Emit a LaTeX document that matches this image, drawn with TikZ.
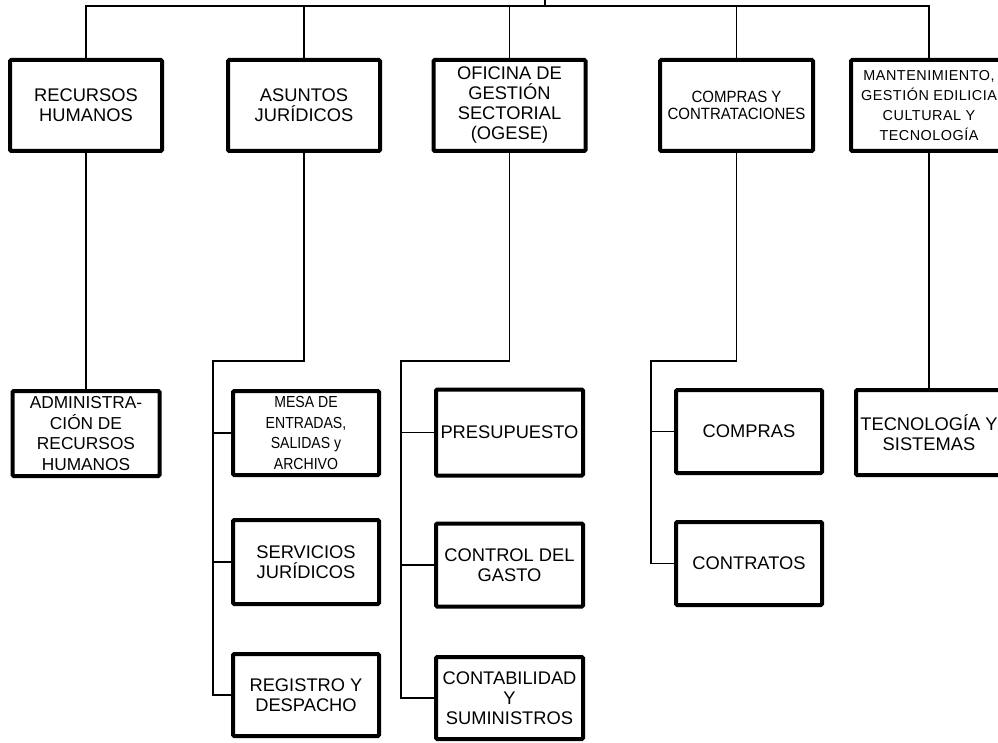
\documentclass[tikz,border=0pt]{standalone}
\usepackage{fontspec}
\setmainfont{Liberation Sans}
\newfontfamily\narrowfont[FakeStretch=0.88]{Liberation Sans}
\newfontfamily\ccfont[FakeStretch=0.92]{Liberation Sans}
\newfontfamily\spacedfont[LetterSpace=3.5]{Liberation Sans}
\begin{document}
\begin{tikzpicture}[x=1pt,y=-1pt,
  box/.style={draw=black,line width=4pt,rounded corners=1.2pt,fill=white,align=center,inner sep=0pt,font=\fontsize{18.3}{20}\selectfont},
  ccstyle/.style={font=\ccfont\fontsize{16.3}{17.3}\selectfont},
  mastyle/.style={font=\spacedfont\fontsize{14.4}{20.3}\selectfont},
  mesastyle/.style={font=\narrowfont\fontsize{16}{20.5}\selectfont},
  conn/.style={draw=black,line width=1.1pt}]
\useasboundingbox (0,0) rectangle (998,743);
% top level
\node[box,minimum width=152pt,minimum height=91pt] (RH) at (86,105.5) {RECURSOS\\HUMANOS};
\node[box,minimum width=152pt,minimum height=91pt] (AJ) at (304,105.5) {ASUNTOS\\JURÍDICOS};
\node[box,minimum width=152pt,minimum height=91pt] (OG) at (509.5,105.5) {OFICINA DE\\GESTIÓN\\SECTORIAL\\(OGESE)};
\node[box,ccstyle,minimum width=153pt,minimum height=91pt] (CC) at (736.5,105.5) {COMPRAS Y\\CONTRATACIONES};
\node[box,mastyle,minimum width=156pt,minimum height=91pt] (MA) at (929,105.5) {MANTENIMIENTO,\\GESTIÓN EDILICIA\\CULTURAL Y\\TECNOLOGÍA};
% second level
\node[box,font=\fontsize{17.3}{20.7}\selectfont,minimum width=147pt,minimum height=85pt] (ADM) at (86,433.5) {ADMINISTRA-\\CIÓN DE\\RECURSOS\\HUMANOS};
\node[box,mesastyle,minimum width=146pt,minimum height=84pt] (MESA) at (306,433) {MESA DE\\ENTRADAS,\\SALIDAS y\\ARCHIVO};
\node[box,minimum width=146pt,minimum height=84pt] (SERV) at (306,562) {SERVICIOS\\JURÍDICOS};
\node[box,minimum width=146pt,minimum height=82pt] (REG) at (306,695) {REGISTRO Y\\DESPACHO};
\node[box,minimum width=147pt,minimum height=86pt] (PRES) at (509.5,432.5) {PRESUPUESTO};
\node[box,minimum width=147pt,minimum height=83pt] (CTRL) at (509.5,565) {CONTROL DEL\\GASTO};
\node[box,minimum width=147pt,minimum height=82pt] (CONT) at (509.5,698) {CONTABILIDAD\\Y\\SUMINISTROS};
\node[box,minimum width=146pt,minimum height=83pt] (COMP) at (749,431.5) {COMPRAS};
\node[box,minimum width=146pt,minimum height=83pt] (CONTR) at (749,563.5) {CONTRATOS};
\node[box,minimum width=146pt,minimum height=85pt] (TEC) at (929,432.5) {TECNOLOGÍA Y\\SISTEMAS};
% connectors
\coordinate (top) at (545,0);
\coordinate (bus) at (545,6);
\coordinate (ajL) at (213,361);
\coordinate (ogL) at (401,361);
\coordinate (ccL) at (651,361);
\draw[conn] (top) -- (bus);
\draw[conn] (RH.north) |- (bus) -| (MA.north);
\draw[conn] (AJ.north) -- (AJ.north |- bus);
\draw[conn] (OG.north) -- (OG.north |- bus);
\draw[conn] (CC.north) -- (CC.north |- bus);
\draw[conn] (RH.south) -- (ADM.north);
\draw[conn] (MA.south) -- (MA.south |- TEC.north);
\draw[conn] (AJ.south) |- (ajL) |- (REG.west);
\draw[conn] (ajL |- MESA.west) -- (MESA.west);
\draw[conn] (ajL |- SERV.west) -- (SERV.west);
\draw[conn] (OG.south) |- (ogL) |- (CONT.west);
\draw[conn] (ogL |- PRES.west) -- (PRES.west);
\draw[conn] (ogL |- CTRL.west) -- (CTRL.west);
\draw[conn] (CC.south) |- (ccL) |- (CONTR.west);
\draw[conn] (ccL |- COMP.west) -- (COMP.west);
\end{tikzpicture}
\end{document}
